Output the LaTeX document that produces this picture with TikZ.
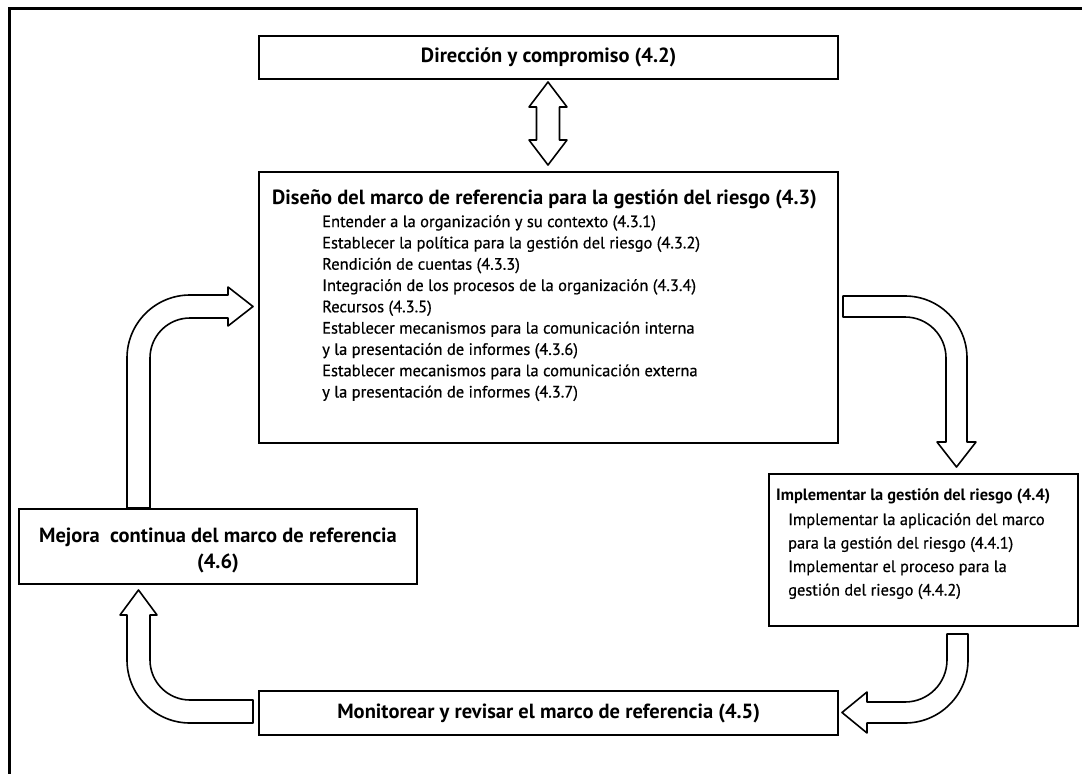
\documentclass[tikz,border=0pt]{standalone}
\usepackage{fontspec}
\setmainfont{PT Sans}
\newfontfamily\listfont[FakeBold=0.6]{PT Sans}
\begin{document}
\begin{tikzpicture}[x=1pt,y=-1pt,
  box/.style={draw, line width=2.4pt, anchor=north west, inner sep=0pt},
  title/.style={font=\bfseries\fontsize{20.5}{24}\selectfont, inner sep=0pt},
  body/.style={font=\listfont\fontsize{16.5}{21.3}\selectfont, align=left, inner sep=0pt, anchor=north west},
  blk/.style={draw, line width=1.6pt, fill=white, line join=round}]
\useasboundingbox (0,0) rectangle (1082,774);
% frame: top and left rules
\draw[line width=3pt] (9,774) -- (9,8) -- (1082,8);

% boxes
\node[box, minimum width=579, minimum height=43] (dir) at (258,35) {};
\node[title] (dirt) at (dir.center) {Dirección y compromiso (4.2)};

\node[box, minimum width=579, minimum height=271] (dis) at (258,171) {};
\node[title, anchor=base west] (dist) at (272,204) {Diseño del marco de referencia para la gestión del riesgo (4.3)};
\node[body] (disl) at (322,215) {Entender a la organización y su contexto (4.3.1)\\
Establecer la política para la gestión del riesgo (4.3.2)\\
Rendición de cuentas (4.3.3)\\
Integración de los procesos de la organización (4.3.4)\\
Recursos (4.3.5)\\
Establecer mecanismos para la comunicación interna\\
y la presentación de informes (4.3.6)\\
Establecer mecanismos para la comunicación externa\\
y la presentación de informes (4.3.7)};

\node[box, minimum width=309, minimum height=152] (imp) at (768,473) {};
\node[title, anchor=base west, font=\bfseries\fontsize{16.4}{20}\selectfont] (impt) at (776,500) {Implementar la gestión del riesgo (4.4)};
\node[body, font=\listfont\fontsize{16.4}{23.5}\selectfont] (impl) at (788,513) {Implementar la aplicación del marco\\
para la gestión del riesgo (4.4.1)\\
Implementar el proceso para la\\
gestión del riesgo (4.4.2)};

\node[box, minimum width=579, minimum height=44] (mon) at (258,690) {};
\node[title] (mont) at (mon.center) {Monitorear y revisar el marco de referencia (4.5)};

\node[box, minimum width=398, minimum height=75] (mej) at (18,508) {};
\node[title, align=center, font=\bfseries\fontsize{20.5}{26}\selectfont, anchor=north] (mejt) at (218,528) {Mejora\ \ continua del marco de referencia\\(4.6)};

% two-way arrow between the top boxes
\draw[blk] (548,82) -- (567,107) -- (559.5,107) -- (559.5,140) -- (567,140) -- (548,165)
  -- (529,140) -- (536.5,140) -- (536.5,107) -- (529,107) -- cycle;

% design -> implement
\draw[blk] (843,296) -- (905,296) arc[start angle=-90,end angle=0,radius=62] -- (967,442)
  -- (976,442) -- (956.5,467) -- (937,442) -- (946,442) -- (946,358)
  arc[start angle=0,end angle=-90,radius=41] -- (843,317) -- cycle;

% implement -> monitor
\draw[blk] (947,634) -- (947,660) arc[start angle=0,end angle=90,radius=42] -- (867,702)
  -- (867,692) -- (842,712.5) -- (867,733) -- (867,723) -- (905,723)
  arc[start angle=90,end angle=0,radius=63] -- (968,634) -- cycle;

% monitor -> improvement
\draw[blk] (253,700) -- (190,700) arc[start angle=90,end angle=180,radius=40] -- (150,615)
  -- (157,615) -- (138.5,590) -- (120,615) -- (127,615) -- (127,660)
  arc[start angle=180,end angle=90,radius=63] -- (253,723) -- cycle;

% improvement -> design
\draw[blk] (127,508) -- (127,358) arc[start angle=180,end angle=270,radius=63] -- (228,295)
  -- (228,287) -- (253,306.5) -- (228,326) -- (228,318) -- (190,318)
  arc[start angle=270,end angle=180,radius=40] -- (150,508) -- cycle;
\end{tikzpicture}
\end{document}
